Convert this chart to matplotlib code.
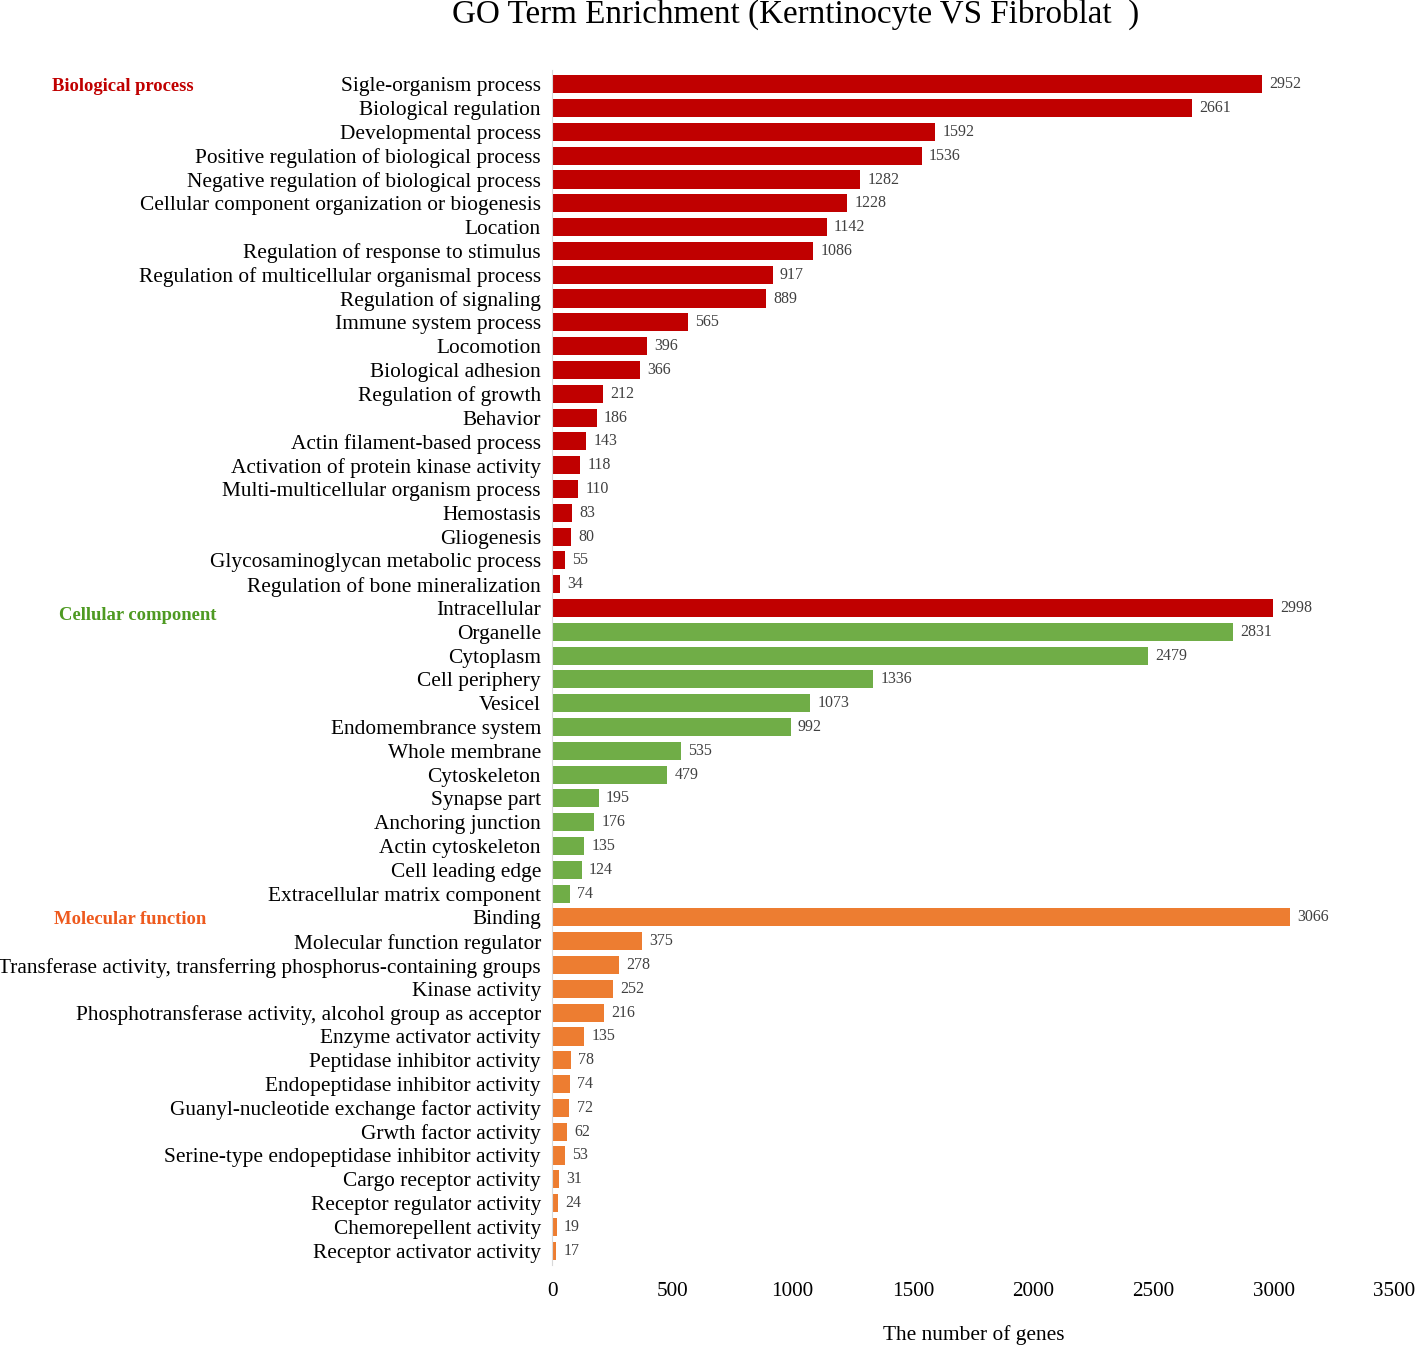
import matplotlib
matplotlib.use("Agg")
from matplotlib import pyplot as plt
from matplotlib.transforms import blended_transform_factory

plt.rcParams["font.family"] = ["Liberation Serif", "DejaVu Serif"]

# Biological process
BP_TERMS = [
    "Sigle-organism process", "Biological regulation", "Developmental process",
    "Positive regulation of biological process",
    "Negative regulation of biological process",
    "Cellular component organization or biogenesis", "Location",
    "Regulation of response to stimulus",
    "Regulation of multicellular organismal process", "Regulation of signaling",
    "Immune system process", "Locomotion", "Biological adhesion",
    "Regulation of growth", "Behavior", "Actin filament-based process",
    "Activation of protein kinase activity", "Multi-multicellular organism process",
    "Hemostasis", "Gliogenesis", "Glycosaminoglycan metabolic process",
    "Regulation of bone mineralization",
]
BP_COUNTS = [2952, 2661, 1592, 1536, 1282, 1228, 1142, 1086, 917, 889, 565,
             396, 366, 212, 186, 143, 118, 110, 83, 80, 55, 34]

# Cellular component
CC_TERMS = [
    "Intracellular", "Organelle", "Cytoplasm", "Cell periphery", "Vesicel",
    "Endomembrance system", "Whole membrane", "Cytoskeleton", "Synapse part",
    "Anchoring junction", "Actin cytoskeleton", "Cell leading edge",
    "Extracellular matrix component",
]
CC_COUNTS = [2998, 2831, 2479, 1336, 1073, 992, 535, 479, 195, 176, 135, 124, 74]

# Molecular function
MF_TERMS = [
    "Binding", "Molecular function regulator",
    "Transferase activity, transferring phosphorus-containing groups",
    "Kinase activity", "Phosphotransferase activity, alcohol group as acceptor",
    "Enzyme activator activity", "Peptidase inhibitor activity",
    "Endopeptidase inhibitor activity", "Guanyl-nucleotide exchange factor activity",
    "Grwth factor activity", "Serine-type endopeptidase inhibitor activity",
    "Cargo receptor activity", "Receptor regulator activity",
    "Chemorepellent activity", "Receptor activator activity",
]
MF_COUNTS = [3066, 375, 278, 252, 216, 135, 78, 74, 72, 62, 53, 31, 24, 19, 17]

RED = "#C00000"
GREEN = "#70AD47"
ORANGE = "#ED7D31"

terms = BP_TERMS + CC_TERMS + MF_TERMS
counts = BP_COUNTS + CC_COUNTS + MF_COUNTS
# the first cellular component bar is drawn in red in the original
colors = [RED] * len(BP_TERMS) + [RED] + [GREEN] * (len(CC_TERMS) - 1) + [ORANGE] * len(MF_TERMS)
ypos = list(range(len(terms)))

fig = plt.figure(figsize=(14.16, 13.47), dpi=100)
ax = fig.add_axes([552 / 1416, 1 - 1265 / 1347, (1394 - 552) / 1416, (1265 - 70) / 1347])

ax.barh(ypos, counts, height=0.76, color=colors)
for y, c in zip(ypos, counts):
    ax.text(c + 30, y, str(c), va="center", ha="left", fontsize=11.5, color="#404040")

ax.set_ylim(len(terms) - 0.4, -0.6)
ax.set_xlim(0, 3500)
ax.set_xticks(range(0, 3501, 500))
ax.set_yticks(ypos)
ax.set_yticklabels(terms, fontsize=15.4)
ax.tick_params(axis="y", length=0, pad=8)
ax.tick_params(axis="x", length=0, pad=12, labelsize=15.2)
for s in ["top", "right", "bottom"]:
    ax.spines[s].set_visible(False)
ax.spines["left"].set_color("#D9D9D9")

fig.text(974 / 1416, 1 - 1335 / 1347, "The number of genes", ha="center",
         va="center", fontsize=15.4)

# group labels on the far left
trans = blended_transform_factory(fig.transFigure, ax.transData)
ax.text(123 / 1416, 0.1, "Biological process", transform=trans, ha="center",
        va="center", fontsize=13.4, fontweight="bold", color=RED)
ax.text(138 / 1416, 22.3, "Cellular component", transform=trans, ha="center",
        va="center", fontsize=13.4, fontweight="bold", color="#4E9A22")
ax.text(130 / 1416, 35.1, "Molecular function", transform=trans, ha="center",
        va="center", fontsize=13.4, fontweight="bold", color="#EE5A1E")

fig.text(796 / 1416, 1 - 14 / 1347, "GO Term Enrichment (Kerntinocyte VS Fibroblat  )",
         ha="center", va="center", fontsize=23.9)

fig.savefig("out.png", dpi=100)
